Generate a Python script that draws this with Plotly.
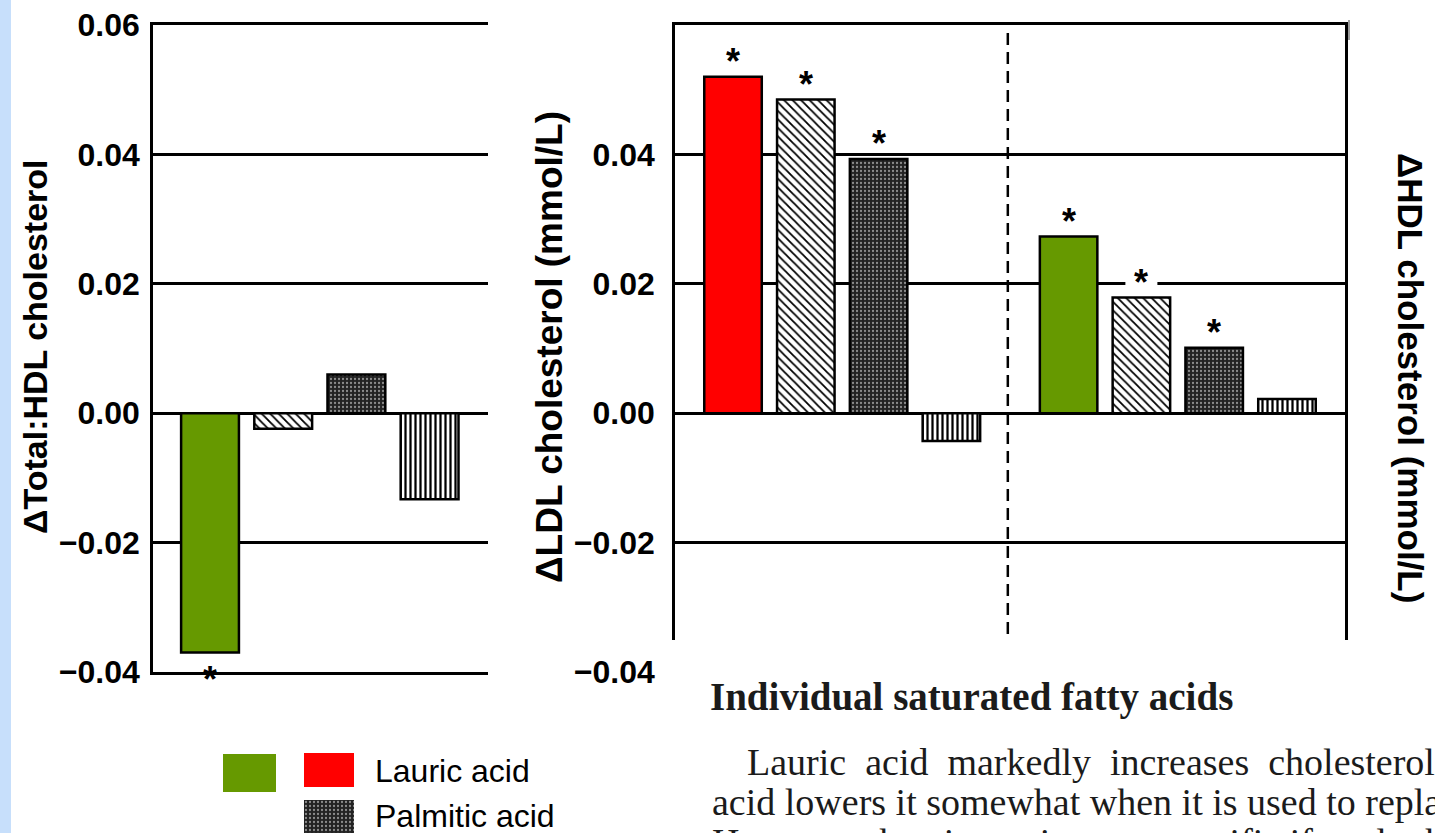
import plotly.graph_objects as go

W, H = 1435, 833

# ---- data -------------------------------------------------------------
acids = ["Lauric acid", "Myristic acid", "Palmitic acid", "Stearic acid"]
total_hdl = [-0.037, -0.0024, 0.006, -0.0133]      # change in total:HDL cholesterol
ldl = [0.052, 0.0485, 0.0393, -0.0043]             # change in LDL cholesterol (mmol/L)
hdl = [0.0273, 0.0179, 0.0101, 0.0022]             # change in HDL cholesterol (mmol/L)
total_hdl_sig = [True, False, False, False]
ldl_sig = [True, True, True, False]
hdl_sig = [True, True, True, False]
left_ticks = [-0.04, -0.02, 0.0, 0.02, 0.04, 0.06]
right_ticks = [-0.04, -0.02, 0.0, 0.02, 0.04]
y_range = [-0.04, 0.06]
legend_labels = ["Lauric acid", "Palmitic acid"]

heading = "Individual saturated fatty acids"
body_lines = [
    "Lauric\u2002acid\u2002markedly\u2002increases\u2002cholesterol",
    "acid lowers it somewhat when it is used to repla",
    "However, the picture is more specific if we look at total",
]

# ---- helpers ----------------------------------------------------------
def px_x(p):
    return p / W


def px_y(p):
    return 1 - p / H


SANS = "Liberation Sans, Arial, sans-serif"
SERIF = "Liberation Serif, Times New Roman, serif"
GREEN = "#669900"
RED = "#ff0000"
DARK = "#222222"

TOP_PX, BOT_PX = 25, 672
DATA_PER_PX = (y_range[1] - y_range[0]) / (BOT_PX - TOP_PX)

# fill of each acid: solid colour, diagonal hatch, dark stipple, vertical lines
fills = [
    None,
    dict(shape="\\", fgcolor="black", bgcolor="white", size=6, solidity=0.3),
    dict(shape=".", fgcolor="#8c8c8c", bgcolor=DARK, size=4, solidity=0.25),
    dict(shape="|", fgcolor="black", bgcolor="white", size=5, solidity=0.45),
]

group_gap = 4.61
bar_w = 0.79
x_left = [float(i) for i in range(len(acids))]
x_ldl = [float(i) for i in range(len(acids))]
x_hdl = [i + group_gap for i in range(len(acids))]

fig = go.Figure()
outline = dict(color="black", width=2.5)
for i, acid in enumerate(acids):
    for xs, vals, solid, xa, ya in [
        ([x_left[i]], [total_hdl[i]], [GREEN], "x", "y"),
        ([x_ldl[i], x_hdl[i]], [ldl[i], hdl[i]], [RED, GREEN], "x2", "y2"),
    ]:
        if fills[i] is None:
            marker = dict(color=solid, line=outline)
        else:
            marker = dict(color=fills[i]["bgcolor"], line=outline,
                          pattern=dict(fillmode="replace", **fills[i]))
        fig.add_bar(x=xs, y=vals, width=bar_w, marker=marker, name=acid,
                    xaxis=xa, yaxis=ya, hoverinfo="y")

# legend swatches live on their own small pixel-based axis
leg_x = [249.5, 329, 329]
leg_top = [754, 753, 800]
leg_h = [38, 34, 45]
leg_w = [53, 50, 50]
leg_fill = [GREEN, RED, DARK]
for xv, top, hh, ww, col in zip(leg_x, leg_top, leg_h, leg_w, leg_fill):
    marker = dict(color=col, line=dict(width=0))
    if col == DARK:
        marker["pattern"] = dict(fillmode="replace", **fills[2])
    fig.add_bar(x=[xv], y=[hh], base=[top], width=[ww], marker=marker,
                xaxis="x3", yaxis="y3", hoverinfo="skip")

axis_common = dict(showline=True, linecolor="black", linewidth=2.5,
                   ticks="", zeroline=False, fixedrange=True, automargin=False)
tickfont = dict(family=SANS, size=32, color="black", weight="bold")

fig.update_layout(
    template=None,
    width=W, height=H,
    margin=dict(l=0, r=0, t=0, b=0, autoexpand=False),
    paper_bgcolor="white", plot_bgcolor="rgba(0,0,0,0)",
    showlegend=False, barmode="overlay",
    xaxis=dict(domain=[px_x(153), px_x(488)], range=[-0.779, 3.798],
               mirror=True, showgrid=False, showticklabels=False, **axis_common),
    yaxis=dict(domain=[px_y(BOT_PX), px_y(TOP_PX)], range=y_range,
               tickvals=left_ticks, tickformat=".2f", tickfont=tickfont,
               ticklabelstandoff=4, showgrid=True, gridcolor="black",
               gridwidth=2.5, mirror=False, **axis_common),
    xaxis2=dict(domain=[px_x(675), px_x(1345)], range=[-0.797, 8.407],
                mirror=True, showgrid=False, showticklabels=False,
                anchor="y2", **axis_common),
    yaxis2=dict(domain=[px_y(BOT_PX), px_y(TOP_PX)], range=y_range,
                tickvals=right_ticks, tickformat=".2f", tickfont=tickfont,
                ticklabelstandoff=11, showgrid=True, gridcolor="black",
                gridwidth=2.5, mirror=True, anchor="x2", **axis_common),
    xaxis3=dict(domain=[px_x(200), px_x(560)], range=[200, 560], visible=False,
                anchor="y3", fixedrange=True, automargin=False),
    yaxis3=dict(domain=[0, px_y(740)], range=[H, 740], visible=False,
                anchor="x3", fixedrange=True, automargin=False),
)

shapes = []
annotations = []

# significance stars, with a break in any rule they sit on
panels = [
    (x_left, total_hdl, total_hdl_sig, "x", "y", left_ticks),
    (x_ldl, ldl, ldl_sig, "x2", "y2", right_ticks + [y_range[1]]),
    (x_hdl, hdl, hdl_sig, "x2", "y2", right_ticks + [y_range[1]]),
]
STAR_OFFSET = 21
for xs, vals, sig, xr, yr, rules in panels:
    for xv, v, s in zip(xs, vals, sig):
        if not s:
            continue
        sign = 1 if v >= 0 else -1
        centre = v + sign * STAR_OFFSET * DATA_PER_PX
        annotations.append(dict(
            x=xv, y=v, xref=xr, yref=yr, text="*", showarrow=False,
            xanchor="center", yanchor="middle", yshift=sign * STAR_OFFSET - 6,
            font=dict(family=SANS, size=36, color="black", weight="bold")))
        for r in rules:
            if abs(centre - r) < 12 * DATA_PER_PX:
                shapes.append(dict(
                    type="rect", xref=xr, yref=yr, layer="above",
                    xsizemode="pixel", xanchor=xv, x0=-16, x1=16,
                    ysizemode="pixel", yanchor=r, y0=-4, y1=4,
                    fillcolor="white", line=dict(width=0)))

# dashed divider between the LDL and HDL groups
divider = (x_ldl[-1] + x_hdl[0]) / 2 - 0.03
shapes.append(dict(type="line", xref="x2", yref="y2", x0=divider, x1=divider,
                   y0=y_range[0], y1=y_range[1] - 2 * DATA_PER_PX, layer="above",
                   line=dict(color="black", width=2.5, dash="12px,7px")))

# text block over the lower part of the right panel
shapes.append(dict(type="rect", xref="paper", yref="paper",
                   x0=px_x(671), x1=1, y0=0, y1=px_y(640),
                   fillcolor="white", line=dict(width=0), layer="above"))

# page-edge strip and corner mark
shapes.append(dict(type="rect", xref="paper", yref="paper", x0=0, x1=px_x(11),
                   y0=0, y1=1, fillcolor="#c7dffb", line=dict(width=0), layer="below"))
shapes.append(dict(type="line", xref="paper", yref="paper",
                   x0=px_x(1349), x1=px_x(1349), y0=px_y(20), y1=px_y(40),
                   line=dict(color="#9a9a9a", width=2), layer="above"))

# axis titles
annotations += [
    dict(x=px_x(35), y=px_y(347), xref="paper", yref="paper", showarrow=False,
         xanchor="center", yanchor="middle",
         text="ΔTotal:HDL cholesterol", textangle=-90,
         font=dict(family=SANS, size=34, color="black", weight="bold")),
    dict(x=px_x(549), y=px_y(347), xref="paper", yref="paper", showarrow=False,
         xanchor="center", yanchor="middle",
         text="ΔLDL cholesterol (mmol/L)", textangle=-90,
         font=dict(family=SANS, size=37, color="black", weight="bold")),
    dict(x=px_x(1410), y=px_y(378), xref="paper", yref="paper", showarrow=False,
         xanchor="center", yanchor="middle",
         text="ΔHDL cholesterol (mmol/L)", textangle=90,
         font=dict(family=SANS, size=35, color="black", weight="bold")),
]

# legend labels
for label, yc in zip(legend_labels, [771, 816]):
    annotations.append(dict(x=px_x(373), y=px_y(yc), xref="paper", yref="paper",
                            xanchor="left", yanchor="middle", showarrow=False,
                            text=label,
                            font=dict(family=SANS, size=32, color="black")))

# heading and paragraph
annotations.append(dict(x=px_x(708), y=px_y(697), xref="paper", yref="paper",
                        xanchor="left", yanchor="middle", showarrow=False,
                        text=heading,
                        font=dict(family=SERIF, size=39, color="#1b1b1b",
                                  weight="bold")))
for line, xl, yc in zip(body_lines, [745, 710, 710], [762, 802, 842]):
    annotations.append(dict(x=px_x(xl), y=px_y(yc), xref="paper", yref="paper",
                            xanchor="left", yanchor="middle", showarrow=False,
                            text=line,
                            font=dict(family=SERIF, size=38, color="#1b1b1b")))

fig.update_layout(shapes=shapes, annotations=annotations)
fig.write_html("out.html")
